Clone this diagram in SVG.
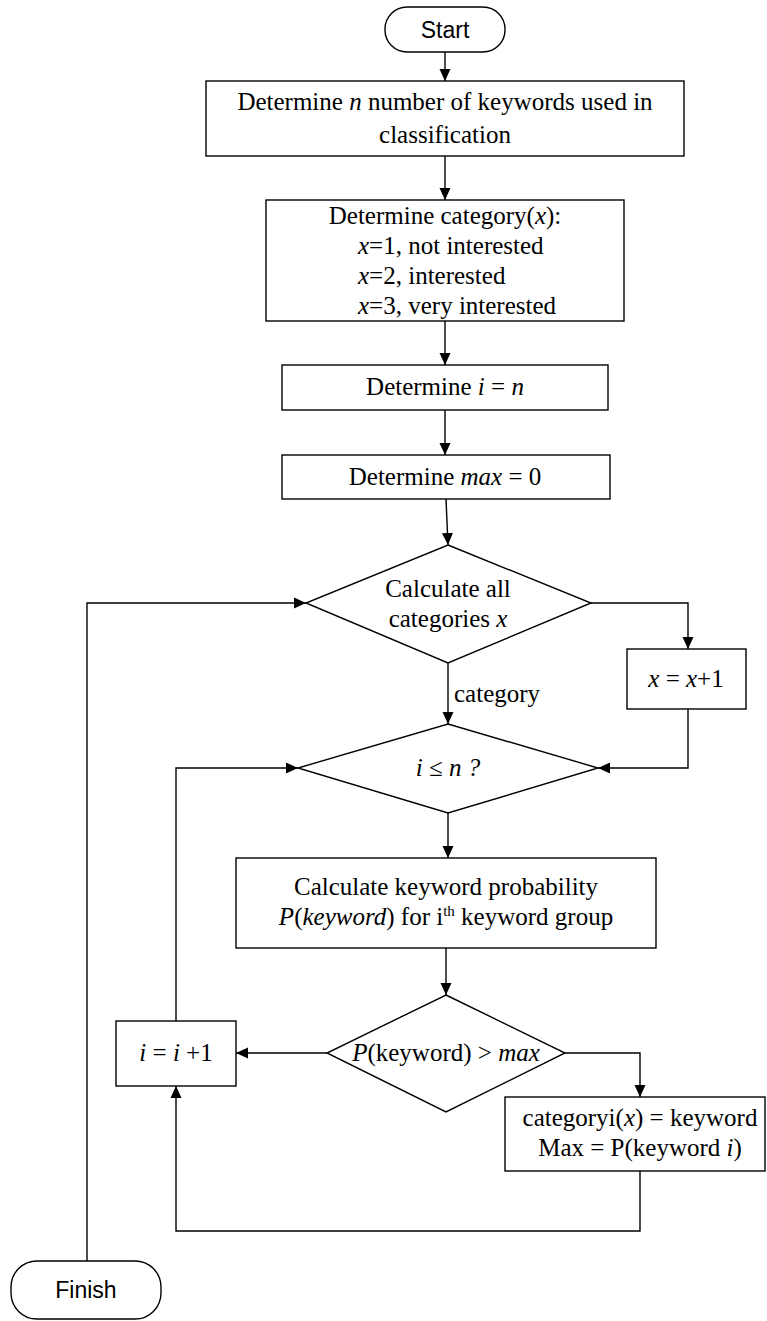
<svg xmlns="http://www.w3.org/2000/svg" width="767" height="1321" viewBox="0 0 767 1321">
<defs>
<style>
.s{fill:#fff;stroke:#000;stroke-width:1.4}
.c{fill:none;stroke:#000;stroke-width:1.4}
.t{font-family:'Liberation Serif','Times New Roman','DejaVu Serif',serif;font-size:25px;fill:#000}
.a{font-family:'Liberation Sans',Arial,sans-serif;font-size:23px;fill:#000}
.m{text-anchor:middle}
.i{font-style:italic}
</style>
<marker id="ah" viewBox="0 0 12 12" refX="12" refY="6" markerWidth="12" markerHeight="12" markerUnits="userSpaceOnUse" orient="auto">
<path d="M0,0.5 L12,6 L0,11.5 z" fill="#000"/>
</marker>
</defs>
<rect width="767" height="1321" fill="#fff"/>
<g id="connectors" class="c" marker-end="url(#ah)">
<path d="M445,52 V81"/>
<path d="M445,156 V200"/>
<path d="M445,321 V365"/>
<path d="M445,410 V455"/>
<path d="M446,499 L448,545"/>
<path d="M87,1261 V603 H306"/>
<path d="M591,603 H688 V649"/>
<path d="M448,663 V724"/>
<path d="M688,709 V768 H598"/>
<path d="M176,1021 V768 H298"/>
<path d="M448,813 V858"/>
<path d="M446,948 V995"/>
<path d="M327,1053 H236"/>
<path d="M565,1053 H640 V1097"/>
<path d="M640,1171 V1231 H176 V1086"/>
</g>
<text class="t" x="454" y="702">category</text>
<g id="start"><rect class="s" x="385" y="7" width="120" height="45" rx="22"/><text class="a m" x="445" y="38">Start</text></g>
<g id="n-keywords"><rect class="s" x="206" y="81" width="478" height="75"/>
<text class="t m" x="445" y="110">Determine <tspan class="i">n</tspan> number of keywords used in</text>
<text class="t m" x="445" y="143">classification</text></g>
<g id="category"><rect class="s" x="266" y="200" width="358" height="121"/>
<text class="t m" x="445" y="224">Determine category(<tspan class="i">x</tspan>):</text>
<text class="t" x="358" y="254"><tspan class="i">x</tspan>=1, not interested</text>
<text class="t" x="358" y="284"><tspan class="i">x</tspan>=2, interested</text>
<text class="t" x="358" y="314"><tspan class="i">x</tspan>=3, very interested</text></g>
<g id="i-n"><rect class="s" x="282" y="365" width="326" height="45"/><text class="t m" x="445" y="395">Determine <tspan class="i">i</tspan> = <tspan class="i">n</tspan></text></g>
<g id="max0"><rect class="s" x="282" y="455" width="328" height="44"/><text class="t m" x="445" y="485">Determine <tspan class="i">max</tspan> = 0</text></g>
<g id="calc-all"><path class="s" d="M448,545 L591,603 L448,663 L306,603 Z"/>
<text class="t m" x="448" y="597">Calculate all</text>
<text class="t m" x="448" y="627">categories <tspan class="i">x</tspan></text></g>
<g id="x-inc"><rect class="s" x="627" y="649" width="119" height="60"/><text class="t m" x="686" y="687"><tspan class="i">x</tspan> = <tspan class="i">x</tspan>+1</text></g>
<g id="i-le-n"><path class="s" d="M448,724 L598,768 L448,813 L298,768 Z"/><text class="t m i" x="448" y="776">i ≤ n ?</text></g>
<g id="prob"><rect class="s" x="236" y="858" width="420" height="90"/>
<text class="t m" x="446" y="895">Calculate keyword probability</text>
<text class="t m" x="446" y="925"><tspan class="i">P</tspan>(<tspan class="i">keyword</tspan>) for i<tspan font-size="15" dy="-9">th</tspan><tspan dy="9"> keyword group</tspan></text></g>
<g id="p-max"><path class="s" d="M446,995 L565,1053 L446,1112 L327,1053 Z"/><text class="t m" x="446" y="1061"><tspan class="i">P</tspan>(keyword) &gt; <tspan class="i">max</tspan></text></g>
<g id="i-inc"><rect class="s" x="116" y="1021" width="120" height="65"/><text class="t m" x="176" y="1061"><tspan class="i">i</tspan> = <tspan class="i">i</tspan> +1</text></g>
<g id="assign"><rect class="s" x="505" y="1097" width="260" height="74"/>
<text class="t m" x="640" y="1126">categoryi(<tspan class="i">x</tspan>) = keyword</text>
<text class="t m" x="640" y="1156">Max = P(keyword <tspan class="i">i</tspan>)</text></g>
<g id="finish"><rect class="s" x="11" y="1261" width="150" height="58" rx="26"/><text class="a m" x="86" y="1298">Finish</text></g>
</svg>
